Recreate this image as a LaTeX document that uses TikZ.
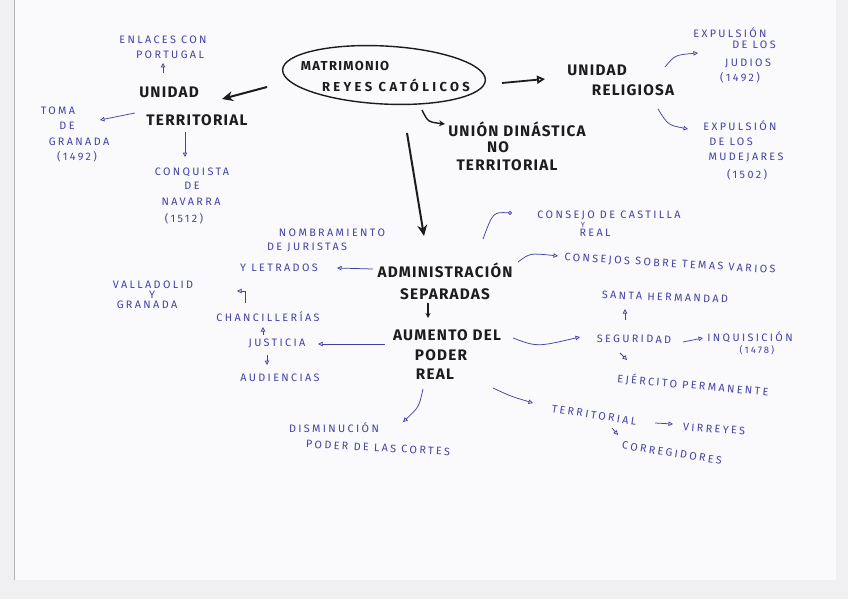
\documentclass[tikz,border=0pt]{standalone}
\usepackage{fontspec}
\usetikzlibrary{arrows.meta,calc,shapes.geometric}
\newfontfamily\blufont{Fira Sans}[LetterSpace=22]
\newfontfamily\blkfont{Fira Sans}[LetterSpace=8]
\newfontfamily\ovlfont{Fira Sans}[LetterSpace=10]
\newfontfamily\ovlwfont{Fira Sans}[LetterSpace=26]
\definecolor{inkblue}{RGB}{66,66,165}
\definecolor{inkblack}{RGB}{28,28,30}
\definecolor{paper}{RGB}{250,250,252}
\definecolor{edgecol}{RGB}{240,240,243}
\begin{document}
\begin{tikzpicture}[x=1pt,y=-1pt,
  blu/.style={font=\blufont\fontsize{10.8}{12}\selectfont, text=inkblue, inner sep=0pt},
  blk/.style={font=\blkfont\bfseries\fontsize{15.3}{17}\selectfont, text=inkblack, inner sep=0pt},
  ovl/.style={font=\ovlfont\fontsize{13}{15}\selectfont, text=inkblack, inner sep=0pt},
  barrow/.style={draw=inkblue, line width=0.75pt, -{Triangle[open,length=4.5pt,width=4.5pt]}},
  karrow/.style={draw=inkblack, line width=2pt, -{Stealth[length=11pt,width=10pt]}},
]
\useasboundingbox (0,0) rectangle (848,599);
\fill[edgecol] (0,0) rectangle (848,599);
\fill[paper] (14,0) rectangle (836,580);
\draw[gray!60, line width=0.6pt] (14,0) -- (14,580);

% central
\node[ellipse, draw=inkblack, line width=1.4pt, minimum width=203pt, minimum height=58pt, rotate=-3] (ell) at (384,75) {};
\node[ovl, font=\ovlfont\bfseries\fontsize{13}{15}\selectfont] (m1) at (345,66) {MATRIMONIO};
\node[ovl, font=\ovlwfont\bfseries\fontsize{13}{15}\selectfont] (m2) at (396,85) {REYES CATÓLICOS};

% black headings
\node[blk] (ut1) at (169,92) {UNIDAD};
\node[blk] (ut2) at (197,120) {TERRITORIAL};
\node[blk] (ur1) at (597,70) {UNIDAD};
\node[blk] (ur2) at (633,90) {RELIGIOSA};
\node[blk] (ud1) at (517,129) {UNIÓN DINÁSTICA};
\node[blk] (ud2) at (498,147) {NO};
\node[blk] (ud3) at (507,165) {TERRITORIAL};
\node[blk] (ad1) at (445,270) {ADMINISTRACIÓN};
\node[blk] (ad2) at (445,294) {SEPARADAS};
\node[blk] (au1) at (447,335) {AUMENTO DEL};
\node[blk] (au2) at (441,355) {PODER};
\node[blk] (au3) at (435,374) {REAL};

% blue notes
\node[blu] (ep1) at (163,40) {ENLACES CON};
\node[blu] (ep2) at (170,55) {PORTUGAL};
\node[blu] (tg1) at (58,111) {TOMA};
\node[blu] (tg2) at (67,126) {DE};
\node[blu] (tg3) at (79,142) {GRANADA};
\node[blu] (tg4) at (77,157) {(1492)};
\node[blu] (cn1) at (192,172) {CONQUISTA};
\node[blu] (cn2) at (192,186) {DE};
\node[blu] (cn3) at (191,202) {NAVARRA};
\node[blu] (cn4) at (184,219) {(1512)};
\node[blu] (ej1) at (730,33) {EXPULSIÓN};
\node[blu] (ej2) at (754,45) {DE LOS};
\node[blu] (ej3) at (748,63) {JUDIOS};
\node[blu] (ej4) at (740,78) {(1492)};
\node[blu] (em1) at (740,126) {EXPULSIÓN};
\node[blu] (em2) at (731,142) {DE LOS};
\node[blu] (em3) at (746,157) {MUDEJARES};
\node[blu] (em4) at (747,175) {(1502)};
\node[blu] (nj1) at (332,233) {NOMBRAMIENTO};
\node[blu] (nj2) at (307,247) {DE JURISTAS};
\node[blu] (nj3) at (279,268) {Y LETRADOS};
\node[blu] (vg1) at (153,285) {VALLADOLID};
\node[blu] (vg2) at (152,295) {Y};
\node[blu] (vg3) at (147,305) {GRANADA};
\node[blu] (ch) at (268,317) {CHANCILLERÍAS};
\node[blu] (ju) at (277,343) {JUSTICIA};
\node[blu] (aud) at (280,378) {AUDIENCIAS};
\node[blu] (cc1) at (609,215) {CONSEJO DE CASTILLA};
\node[blu, font=\blufont\fontsize{7.5}{8}\selectfont] (cc2) at (583,225) {Y};
\node[blu] (cc3) at (595,233) {REAL};
\node[blu, rotate=-3.4] (cs) at (670,264) {CONSEJOS SOBRE TEMAS VARIOS};
\node[blu, rotate=-2] (sh) at (665,297) {SANTA HERMANDAD};
\node[blu, rotate=-1] (seg) at (634,339) {SEGURIDAD};
\node[blu] (inq1) at (750,337) {INQUISICIÓN};
\node[blu, font=\blufont\fontsize{9.5}{10}\selectfont] (inq2) at (757,350) {(1478)};
\node[blu, rotate=-5] (ejp) at (693,385) {EJÉRCITO PERMANENTE};
\node[blu, rotate=-9] (ter) at (594,415) {TERRITORIAL};
\node[blu, rotate=-4] (vir) at (714,429) {VIRREYES};
\node[blu, rotate=-9] (cor) at (672,453) {CORREGIDORES};
\node[blu] (dis1) at (334,428) {DISMINUCIÓN};
\node[blu, rotate=-3] (dis2) at (378,448) {PODER DE LAS CORTES};

% black connectors
\draw[karrow] ($(ell.center)+(-117,12)$) -- ($(ut1.center)+(53,7)$);
\draw[draw=inkblack, line width=1.8pt, -{Triangle[open,length=8pt,width=8pt]}] ($(ell.center)+(118,8)$) -- ($(ur1.center)+(-52,9)$);
\draw[draw=inkblack, line width=1.4pt, -{Stealth[length=6pt,width=6pt]}] ($(ell.center)+(38,35)$) .. controls ($(ell.center)+(44,47)$) .. ($(ud1.center)+(-72,-5)$);
\draw[karrow] ($(ell.center)+(23,58)$) -- ($(ad1.center)+(-21,-34)$);
\draw[draw=inkblack, line width=1.2pt, -{Stealth[length=5pt,width=5pt]}] ($(ad2.center)+(-17,9)$) -- ($(au1.center)+(-19,-17)$);

% blue connectors
\draw[barrow] ($(ut1.center)+(-6,-19)$) -- ($(ep2.center)+(-7,8)$);
\draw[barrow] ($(ut2.center)+(-62,-7)$) -- ($(tg1.center)+(42,9)$);
\draw[barrow] ($(ut2.center)+(-12,12)$) -- ($(cn1.center)+(-7,-15)$);
\draw[barrow] ($(ur2.center)+(32,-23)$) .. controls ($(ur2.center)+(42,-35)$) .. ($(ej1.center)+(-32,20)$);
\draw[barrow] ($(ur2.center)+(25,19)$) .. controls ($(ur2.center)+(35,35)$) .. ($(em1.center)+(-52,3)$);
\draw[barrow] ($(ad1.center)+(-72,-1)$) -- ($(nj3.center)+(58,0)$);
\draw[barrow] ($(ch.center)+(-23,-14)$) |- ($(vg3.center)+(90,-14)$);
\draw[barrow] ($(ju.center)+(-14,-8)$) -- ($(ch.center)+(-5,10)$);
\draw[barrow] ($(au1.center)+(-62,9)$) -- ($(ju.center)+(41,1)$);
\draw[barrow] ($(ju.center)+(-10,12)$) -- ($(aud.center)+(-13,-13)$);
\draw[draw=inkblue, line width=0.75pt, -{Circle[open,length=4pt]}] ($(ad1.center)+(38,-31)$) .. controls ($(ad1.center)+(48,-58)$) .. ($(cc1.center)+(-97,-2)$);
\draw[barrow] ($(ad1.center)+(73,-8)$) .. controls ($(ad1.center)+(85,-17)$) .. ($(cs.center)+(-112,-8)$);
\draw[barrow] ($(seg.center)+(-9,-19)$) -- ($(sh.center)+(-40,12)$);
\draw[barrow] ($(au1.center)+(66,3)$) .. controls ($(au1.center)+(90,12)$) .. ($(seg.center)+(-54,-2)$);
\draw[barrow] ($(seg.center)+(49,3)$) -- ($(inq1.center)+(-47,1)$);
\draw[barrow] ($(seg.center)+(-14,14)$) -- ($(ejp.center)+(-66,-25)$);
\draw[barrow] ($(au3.center)+(58,14)$) .. controls ($(au3.center)+(75,22)$) .. ($(ter.center)+(-61,-12)$);
\draw[barrow] ($(ter.center)+(61,8)$) -- ($(vir.center)+(-41,-5)$);
\draw[barrow] ($(ter.center)+(18,13)$) -- ($(cor.center)+(-54,-18)$);
\draw[barrow] ($(au3.center)+(-12,15)$) .. controls ($(au3.center)+(-16,33)$) .. ($(dis1.center)+(69,-6)$);
\end{tikzpicture}
\end{document}
